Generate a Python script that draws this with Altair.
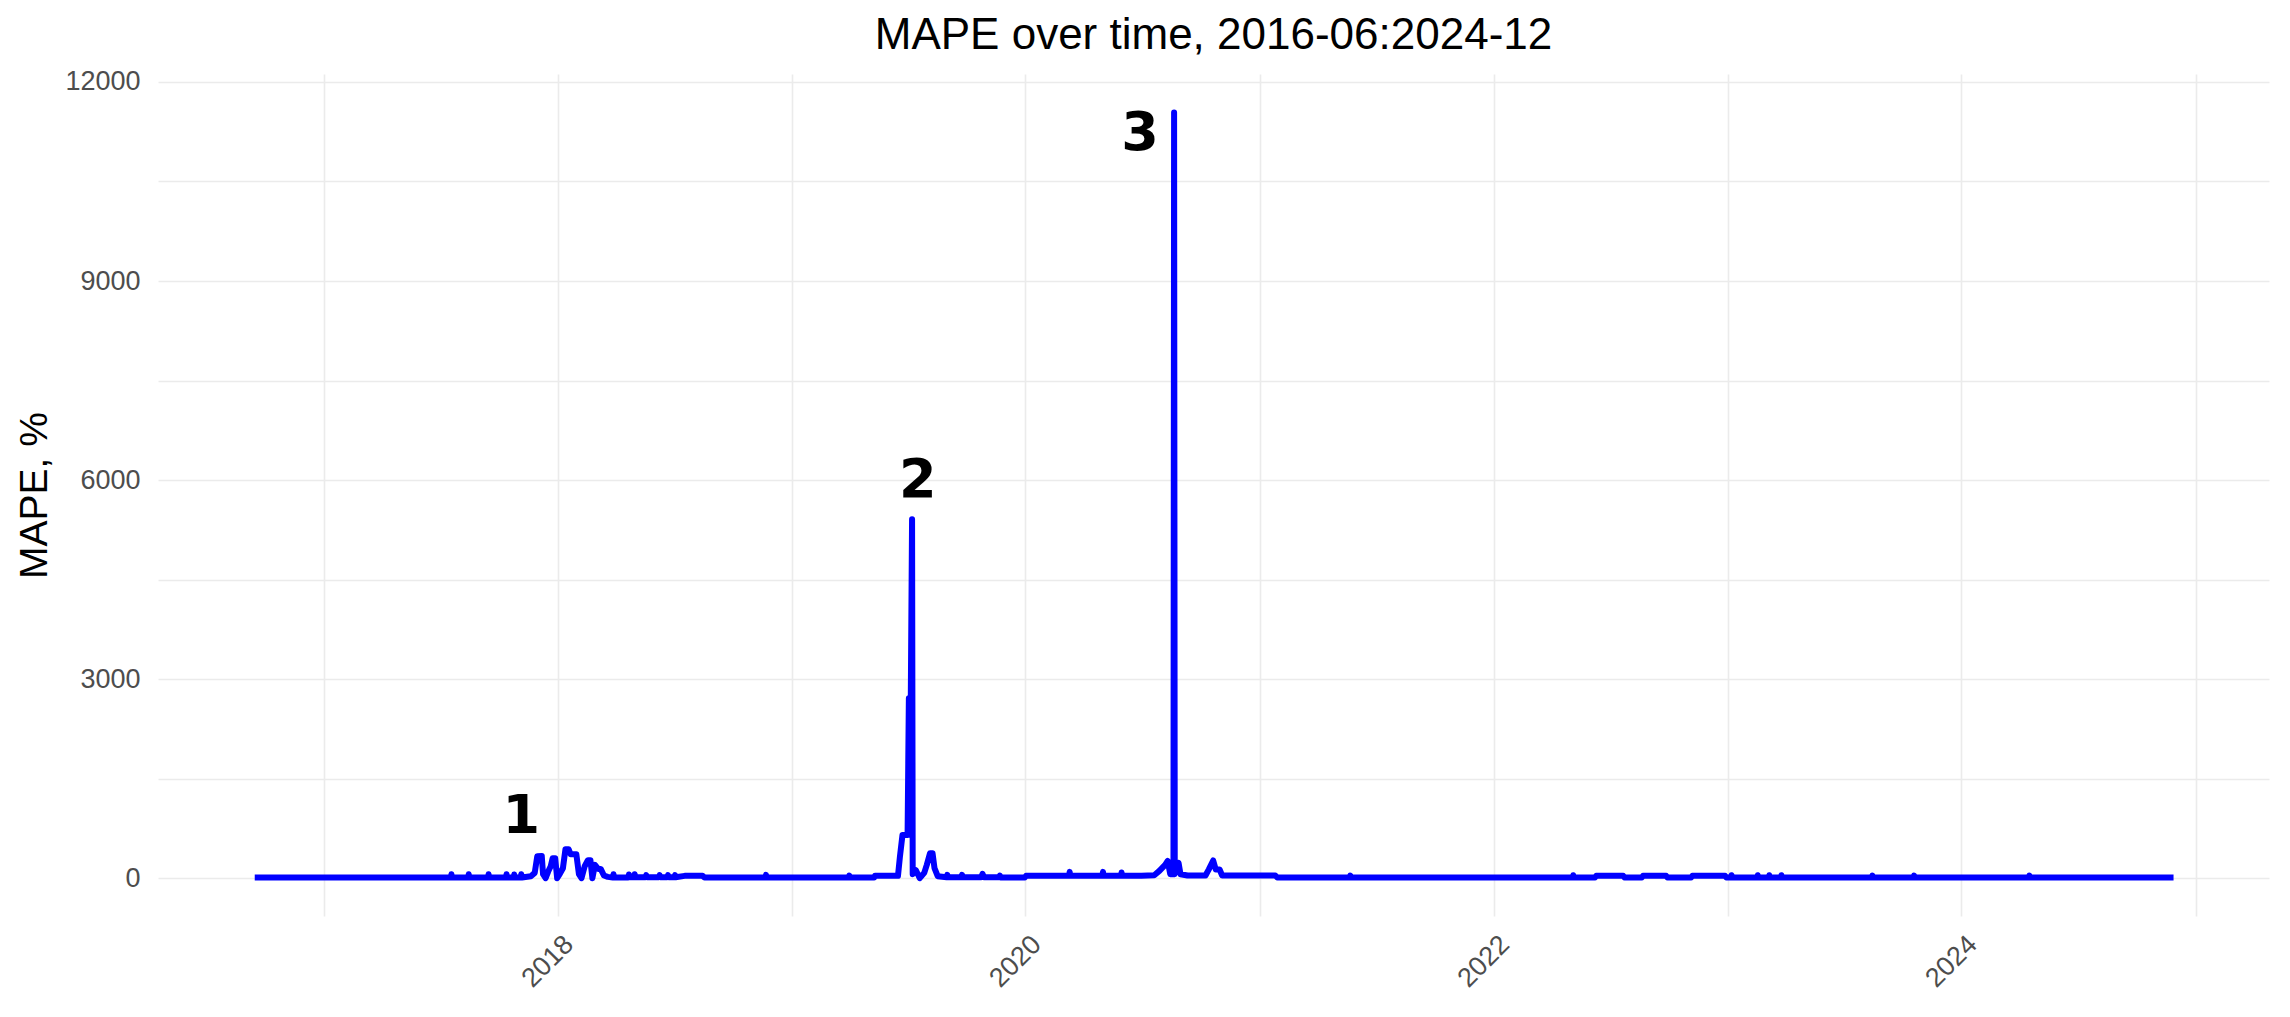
import altair as alt
import pandas as pd

# ---- data ----
dates = [
    "2016-09-15", "2017-03-01",
    "2017-07-18", "2017-07-19", "2017-07-20",
    "2017-08-14", "2017-08-15", "2017-08-16",
    "2017-09-14", "2017-09-15", "2017-09-16",
    "2017-10-12", "2017-10-13", "2017-10-14",
    "2017-10-24", "2017-10-25", "2017-10-26",
    "2017-11-04", "2017-11-05", "2017-11-06",
    "2017-11-20", "2017-11-26", "2017-11-30", "2017-12-07", "2017-12-09",
    "2017-12-13", "2017-12-17", "2017-12-21", "2017-12-24", "2017-12-28",
    "2017-12-31", "2018-01-04", "2018-01-09", "2018-01-13", "2018-01-18",
    "2018-01-21", "2018-01-30", "2018-02-03", "2018-02-07", "2018-02-12",
    "2018-02-17", "2018-02-21", "2018-02-24", "2018-02-28", "2018-03-05",
    "2018-03-09", "2018-03-14", "2018-03-20",
    "2018-03-28", "2018-03-29", "2018-03-30",
    "2018-04-21", "2018-04-22", "2018-04-23",
    "2018-04-30", "2018-05-01", "2018-05-02",
    "2018-05-18", "2018-05-19", "2018-05-20",
    "2018-06-08", "2018-06-09", "2018-06-10",
    "2018-06-21", "2018-06-22", "2018-06-23",
    "2018-07-02", "2018-07-03", "2018-07-04",
    "2018-07-18", "2018-08-15", "2018-08-18",
    "2018-11-21", "2018-11-22", "2018-11-23",
    "2019-03-31", "2019-04-01", "2019-04-02",
    "2019-05-10", "2019-05-11", "2019-06-10", "2019-06-16",
    "2019-06-19", "2019-06-23", "2019-07-01", "2019-07-03", "2019-07-06",
    "2019-07-08", "2019-07-09", "2019-07-14", "2019-07-20", "2019-07-27",
    "2019-07-31", "2019-08-05", "2019-08-09", "2019-08-12", "2019-08-17",
    "2019-08-31", "2019-09-01", "2019-09-02",
    "2019-09-23", "2019-09-24", "2019-09-25",
    "2019-10-24", "2019-10-26", "2019-10-28",
    "2019-11-21", "2019-11-22", "2019-11-23",
    "2019-12-31", "2020-01-02",
    "2020-03-09", "2020-03-10", "2020-03-11",
    "2020-04-30", "2020-05-01", "2020-05-02",
    "2020-05-29", "2020-05-30", "2020-05-31",
    "2020-06-30", "2020-07-20", "2020-07-28", "2020-08-06", "2020-08-10",
    "2020-08-14", "2020-08-19", "2020-08-20", "2020-08-21", "2020-08-24",
    "2020-08-27", "2020-08-30", "2020-09-10", "2020-10-08", "2020-10-13",
    "2020-10-20", "2020-10-24", "2020-10-30", "2020-11-03", "2021-01-25",
    "2021-01-28",
    "2021-05-21", "2021-05-22", "2021-05-23",
    "2022-05-04", "2022-05-05", "2022-05-06",
    "2022-06-08", "2022-06-10", "2022-07-22", "2022-07-24",
    "2022-08-20", "2022-08-22", "2022-09-27", "2022-09-29",
    "2022-11-05", "2022-11-07", "2022-12-28", "2022-12-30",
    "2023-01-06", "2023-01-07", "2023-01-09",
    "2023-02-16", "2023-02-17", "2023-02-18",
    "2023-03-06", "2023-03-07", "2023-03-08",
    "2023-03-25", "2023-03-26", "2023-03-27",
    "2023-08-14", "2023-08-15", "2023-08-16",
    "2023-10-18", "2023-10-19", "2023-10-20",
    "2024-04-15", "2024-04-16", "2024-04-17",
    "2024-11-27",
]
mape = [
    10, 10,
    10, 60, 10,
    10, 60, 10,
    10, 60, 10,
    10, 60, 10,
    10, 55, 10,
    10, 60, 10,
    30, 80, 330, 336, 60,
    0, 100, 180, 300, 300,
    0, 60, 150, 437, 437,
    360, 360, 60, 0, 180,
    270, 270, 0, 200, 140,
    140, 40, 20,
    10, 60, 10,
    10, 55, 15,
    15, 60, 15,
    15, 45, 15,
    15, 45, 15,
    15, 45, 15,
    15, 45, 15,
    35, 35, 10,
    10, 50, 10,
    10, 40, 10,
    10, 35, 35, 35,
    320, 650, 650, 2710, 2710,
    5410, 60, 120, 0, 80,
    200, 375, 375, 150, 30,
    15, 50, 15,
    15, 50, 15,
    15, 65, 15,
    15, 40, 10,
    10, 35,
    35, 95, 35,
    35, 95, 35,
    35, 85, 35,
    35, 45, 110, 200, 260,
    60, 60, 11540, 60, 150,
    230, 60, 40, 40, 130,
    267, 130, 130, 40, 40,
    10,
    10, 40, 10,
    10, 45, 10,
    10, 35, 35, 10,
    10, 35, 35, 10,
    10, 35, 35, 10,
    10, 45, 10,
    10, 45, 10,
    10, 45, 10,
    10, 45, 10,
    10, 40, 10,
    10, 40, 10,
    10, 40, 10,
    10,
]

label_text = ["1", "2", "3"]
label_dates = ["2017-11-05", "2019-07-17", "2020-06-28"]
label_values = [920, 5985, 11217]

year_ticks = list(range(2017, 2026))
y_ticks = list(range(0, 12001, 1500))

df = pd.DataFrame({"date": dates, "mape": mape})
lab = pd.DataFrame({"date": label_dates, "mape": label_values, "text": label_text})

x_scale = alt.Scale(
    domain=[alt.DateTime(year=2016, month=4, date=17, utc=True),
            alt.DateTime(year=2025, month=4, date=25, utc=True)]
)
y_scale = alt.Scale(domain=[-570, 12120], nice=False, zero=False)

x_axis = alt.Axis(
    values=[alt.DateTime(year=y, month=1, date=1, utc=True) for y in year_ticks],
    labelExpr="utcyear(datum.value) % 2 === 0 ? utcFormat(datum.value, '%Y') : ''",
    title=None,
    grid=True, gridColor="#ebebeb", gridWidth=1.6,
    ticks=False, tickSize=0, domain=False,
    labelAngle=315, labelAlign="right", labelBaseline="middle",
    labelPadding=24, labelOffset=11, labelOverlap=False,
    labelFont="Liberation Sans", labelFontSize=27, labelColor="#4d4d4d",
)
y_axis = alt.Axis(
    values=y_ticks,
    labelExpr="datum.value % 3000 === 0 ? format(datum.value, 'd') : ''",
    grid=True, gridColor="#ebebeb", gridWidth=1.6,
    ticks=False, tickSize=0, domain=False,
    labelPadding=18, labelOverlap=False,
    labelFont="Liberation Sans", labelFontSize=27, labelColor="#4d4d4d",
    title="MAPE, %", titleFont="Liberation Sans", titleFontSize=39,
    titleFontWeight="normal", titleColor="black",
    titleAngle=270, titleAlign="center", titleBaseline="middle",
    titleX=-124, titleY=421,
)

line = alt.Chart(df).mark_line(
    color="#0000ff", strokeWidth=6, strokeJoin="round", strokeCap="butt"
).encode(
    x=alt.X("date:T", scale=x_scale, axis=x_axis),
    y=alt.Y("mape:Q", scale=y_scale, axis=y_axis),
)

labels = alt.Chart(lab).mark_text(
    font="DejaVu Sans", fontWeight="bold", fontSize=54, color="black",
    align="center", baseline="middle"
).encode(
    x=alt.X("date:T", scale=x_scale),
    y=alt.Y("mape:Q", scale=y_scale),
    text="text:N",
)

chart = alt.layer(line, labels).properties(
    width=2111,
    height=842,
    title=alt.TitleParams(
        "MAPE over time, 2016-06:2024-12",
        font="Liberation Sans", fontSize=44, fontWeight="normal",
        color="black", anchor="middle", offset=10,
    ),
    autosize=alt.AutoSizeParams(type="none"),
    padding={"left": 150, "top": 66, "right": 10, "bottom": 90},
    background="white",
).configure_view(strokeWidth=0)

chart.save("out.html", embed_options={"renderer": "svg", "actions": False})
